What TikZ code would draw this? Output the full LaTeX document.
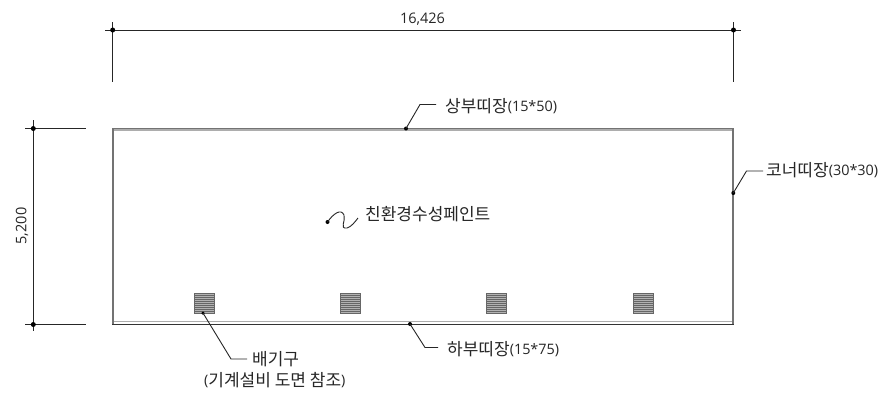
\documentclass[tikz,border=0pt]{standalone}
\usepackage{fontspec}
\setmainfont{Open Sans}
\newfontfamily\kr{Noto Sans CJK KR}
\definecolor{wallgray}{gray}{0.45}
\definecolor{innergray}{gray}{0.68}
\newcommand{\hg}[1]{{\fontsize{17pt}{20pt}\selectfont\kr #1}}
\newcommand{\ltn}[1]{\raisebox{0.8pt}{#1}}
\tikzset{
  dimline/.style={black!85,line width=1pt},
  wall/.style={wallgray,line width=1.7pt},
  leader/.style={black!85,line width=0.9pt},
  lab/.style={anchor=west,inner sep=0pt,font=\fontsize{14.4pt}{17pt}\selectfont,text=black!85},
  dimtext/.style={inner sep=0pt,font=\fontsize{14.5pt}{18pt}\selectfont,text=black!85},
  dotmark/.style={circle,fill=black,inner sep=0pt,minimum size=5pt},
  smalldot/.style={circle,fill=black,inner sep=0pt,minimum size=4pt},
}
\newcommand{\vent}[2]{%
  \fill[black!30] (#1,#2) rectangle ++(20,20);
  \foreach \k in {2,4,...,18}{\draw[black!60,line width=1pt] (#1,#2+\k) -- ++(20,0);}
  \draw[black!60,line width=1.3pt] (#1,#2) rectangle ++(20,20);
}
\begin{document}
\begin{tikzpicture}[x=1pt,y=-1pt]
\useasboundingbox (0,0) rectangle (884,397);
\fill[white] (0,0) rectangle (884,397);
% dimension top
\coordinate (dl) at (112.7,30);
\coordinate (dr) at (733.5,30);
\coordinate (tl1) at (112.7,22);
\coordinate (tl2) at (112.7,82);
\coordinate (tr1) at (733.5,22);
\coordinate (tr2) at (733.5,82);
\draw[dimline] (105,30) -- (741,30);
\draw[dimline] (tl1) -- (tl2);
\draw[dimline] (tr1) -- (tr2);
\node[dotmark] at (dl) {};
\node[dotmark] at (dr) {};
\node[dimtext] (wlab) at (422.5,19) {16,426};
% dimension left
\coordinate (lt) at (33.3,128.5);
\coordinate (lb) at (33.3,324.5);
\draw[dimline] (33.3,120) -- (33.3,331);
\draw[dimline] (25,128.5) -- (86,128.5);
\draw[dimline] (25,324.5) -- (86,324.5);
\node[dotmark] at (lt) {};
\node[dotmark] at (lb) {};
\node[dimtext,rotate=90] (hlab) at (22,226) {5,200};
% elevation
\draw[innergray,line width=1.2pt] (113,130) -- (733,130);
\draw[innergray,line width=1pt] (113,321.7) -- (733,321.7);
\draw[wall] (112.7,324.3) -- (112.7,128.5) -- (733.3,128.5) -- (733.3,324.3);
\draw[black!80,line width=1pt] (112,324.5) -- (734,324.5);
% vents
\vent{194.5}{293.2}
\vent{340.5}{293.2}
\vent{486.5}{293.2}
\vent{633.5}{293.2}
% leaders
\node[smalldot] (ptop) at (406,128.5) {};
\coordinate (ktop) at (420,104.5);
\node[lab] (ltop) at (445,106) {\hg{상부띠장}\ltn{(15*50)}};
\draw[leader] (ptop.center) -- (ktop) -- (436,104.5);
\node[smalldot] (pcor) at (733.3,193) {};
\coordinate (kcor) at (746.5,171);
\node[lab] (lcor) at (766,170) {\hg{코너띠장}\ltn{(30*30)}};
\draw[leader] (pcor.center) -- (kcor) -- (763,171);
\node[smalldot] (pbot) at (410,324) {};
\coordinate (kbot) at (425,347.5);
\node[lab] (lbot) at (447,349) {\hg{하부띠장}\ltn{(15*75)}};
\draw[leader] (pbot.center) -- (kbot) -- (438,347.5);
\node[smalldot,minimum size=3.5pt] (pven) at (203,313) {};
\coordinate (kven) at (231,359);
\node[lab] (lven) at (252,359) {\hg{배기구}};
\node[lab] (lven2) at (204,380) {\ltn{(}\hg{기계설비 도면 참조}\ltn{)}};
\draw[leader] (pven.center) -- (kven) -- (247,359);
\node[smalldot] (ppai) at (327.5,222) {};
\node[lab] (lpai) at (365,214) {\hg{친환경수성페인트}};
\draw[leader] (ppai.center) .. controls (333,214) and (341,208) .. (344,215) .. controls (346,221) and (339,229) .. (347,228) .. controls (351,227) and (355,222) .. (358,218);
\end{tikzpicture}
\end{document}
